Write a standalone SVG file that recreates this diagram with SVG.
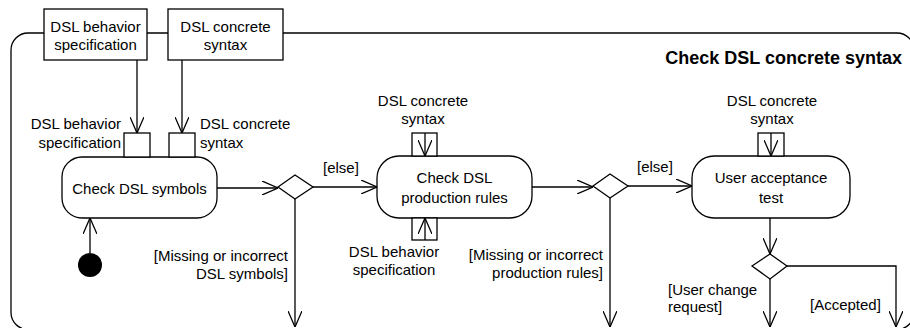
<svg xmlns="http://www.w3.org/2000/svg" width="910" height="328" viewBox="0 0 910 328">
<style>
text{font-family:"Liberation Sans",Arial,sans-serif;font-size:15px;fill:#000}
.t{font-weight:bold;font-size:18px}
.m{text-anchor:middle}
.e{text-anchor:end}
.b{fill:#fff;stroke:#000;stroke-width:1.3}
.l{fill:none;stroke:#000;stroke-width:1.3}
</style>
<defs>
<marker id="a" viewBox="0 0 16 14" refX="16" refY="7" markerWidth="16" markerHeight="14" markerUnits="userSpaceOnUse" orient="auto">
<path d="M0,0 L16,7 L0,14" fill="none" stroke="#000" stroke-width="1.3"/>
</marker>
</defs>
<g id="frame">
<rect x="11" y="33" width="903" height="296.5" rx="17" class="l"/>
<text class="t e" x="902" y="64">Check DSL concrete syntax</text>
</g>
<g id="in-behavior">
<rect x="44" y="9" width="103" height="51" class="b"/>
<text class="m" x="95.5" y="32">DSL behavior</text>
<text class="m" x="95.5" y="50">specification</text>
</g>
<g id="in-syntax">
<rect x="168" y="9" width="115" height="51" class="b"/>
<text class="m" x="225.5" y="32">DSL concrete</text>
<text class="m" x="225.5" y="50">syntax</text>
</g>
<g id="check-symbols">
<rect x="62" y="157" width="155" height="61" rx="20" class="b"/>
<text class="m" x="139.5" y="194">Check DSL symbols</text>
<rect x="124" y="133" width="26" height="24" class="b"/>
<rect x="169" y="133" width="26" height="24" class="b"/>
<text class="e" x="121" y="129">DSL behavior</text>
<text class="e" x="121" y="148">specification</text>
<text x="200" y="129">DSL concrete</text>
<text x="200" y="148">syntax</text>
</g>
<g id="check-rules">
<rect x="377" y="156" width="155" height="62" rx="22" class="b"/>
<text class="m" x="454.5" y="183">Check DSL</text>
<text class="m" x="454.5" y="203">production rules</text>
<rect x="412" y="133" width="25" height="23" class="b"/>
<rect x="412" y="218" width="25" height="22" class="b"/>
<text class="m" x="423" y="106">DSL concrete</text>
<text class="m" x="423" y="124">syntax</text>
<text class="m" x="394" y="257">DSL behavior</text>
<text class="m" x="394" y="275">specification</text>
</g>
<g id="user-test">
<rect x="692" y="156" width="158" height="62" rx="22" class="b"/>
<text class="m" x="771" y="183">User acceptance</text>
<text class="m" x="771" y="203">test</text>
<rect x="758" y="133" width="26" height="23" class="b"/>
<text class="m" x="772" y="106">DSL concrete</text>
<text class="m" x="772" y="124">syntax</text>
</g>
<g id="initial">
<circle cx="90" cy="265" r="12" fill="#000"/>
</g>
<g id="decision1">
<path d="M278,187 L295,175 L313,187 L295,199 Z" class="b"/>
</g>
<g id="decision2">
<path d="M593,186 L610,174 L628,186 L610,198 Z" class="b"/>
</g>
<g id="decision3">
<path d="M752,266 L770,254 L787,266 L770,279 Z" class="b"/>
</g>
<g id="connectors">
<path d="M137,60 V133" class="l" marker-end="url(#a)"/>
<path d="M182,60 V133" class="l" marker-end="url(#a)"/>
<path d="M90,253 V218" class="l" marker-end="url(#a)"/>
<path d="M217,188 H278" class="l" marker-end="url(#a)"/>
<path d="M295,199 V327" class="l" marker-end="url(#a)"/>
<path d="M313,187 H377" class="l" marker-end="url(#a)"/>
<path d="M425,133 V156" class="l" marker-end="url(#a)"/>
<path d="M425,240 V218" class="l" marker-end="url(#a)"/>
<path d="M532,187 H593" class="l" marker-end="url(#a)"/>
<path d="M610,198 V327" class="l" marker-end="url(#a)"/>
<path d="M628,186 H692" class="l" marker-end="url(#a)"/>
<path d="M771,133 V156" class="l" marker-end="url(#a)"/>
<path d="M770,218 V254" class="l" marker-end="url(#a)"/>
<path d="M770,279 V327" class="l" marker-end="url(#a)"/>
<path d="M787,266 H896 V327" class="l" marker-end="url(#a)"/>
<text x="323" y="173">[else]</text>
<text x="637" y="172">[else]</text>
<text class="e" x="288" y="261">[Missing or incorrect</text>
<text class="e" x="288" y="279">DSL symbols]</text>
<text class="e" x="603" y="260">[Missing or incorrect</text>
<text class="e" x="603" y="278">production rules]</text>
<text x="668" y="295">[User change</text>
<text x="668" y="312">request]</text>
<text x="810" y="310">[Accepted]</text>
</g>
</svg>
